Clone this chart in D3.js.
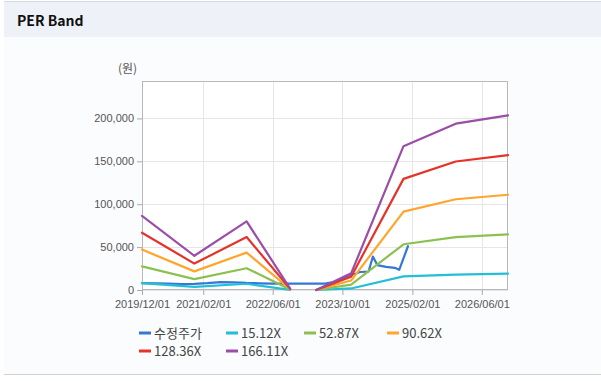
<!DOCTYPE html>
<html><head><meta charset="utf-8">
<script src="https://cdn.jsdelivr.net/npm/d3@7"></script>
<style>
html,body{margin:0;padding:0;background:#fff;}
svg{display:block;}
</style></head>
<body>
<svg id="chart" width="601" height="381"></svg>
<script>
// ---- data ----
const bandDates = ["2019-12-01","2020-12-01","2021-12-01","2022-10-01","2023-01-01","2023-04-01","2023-12-01","2024-12-01","2025-12-01","2026-12-01"];
const per15 =  [7900, 3600, 7300, 200, null, 0, 1800, 15800, 18000, 19200];
const per52 =  [27500, 12700, 25400, 500, null, 0, 6200, 53300, 61700, 64800];
const per90 =  [47100, 21700, 43600, 900, null, 0, 11000, 91400, 105800, 111000];
const per128 = [66700, 30800, 61700, 1300, null, 0, 15500, 129500, 149800, 157200];
const per166 = [86400, 39900, 79900, 1700, null, 0, 19400, 167600, 193900, 203500];

const priceDates = ["2019-12-01","2020-03-01","2020-06-01","2020-09-01","2020-12-01","2021-03-01","2021-06-01","2021-09-01","2021-12-01","2022-03-01","2022-06-01","2023-06-01","2023-09-01","2023-11-01","2024-01-01","2024-02-01","2024-04-01","2024-05-01","2024-06-01","2024-08-01","2024-10-01","2024-11-01","2025-01-01"];
const price = [8000, 7800, 7500, 7000, 7200, 8000, 9200, 9000, 8200, 7800, 7500, 7500, 10000, 16000, 19000, 21000, 21500, 39000, 29000, 27000, 25800, 23500, 51000];

const xTickLabels = ["2019/12/01","2021/02/01","2022/06/01","2023/10/01","2025/02/01","2026/06/01"];
const yTicks = [0, 50000, 100000, 150000, 200000];
const seriesNames = ["수정주가","15.12X","52.87X","90.62X","128.36X","166.11X"];
const seriesColors = ["#3577d4","#22bfd6","#8cc152","#ffa52c","#e6332a","#9b4da8"];

(function(){
// ---- layout ----
const svg = d3.select("#chart");
const W = 601, H = 381;
const pL = 142, pR = 508, pT = 81, pB = 290;
const parse = d3.timeParse("%Y-%m-%d");
const parse2 = d3.timeParse("%Y/%m/%d");

svg.append("rect").attr("x",0).attr("y",0).attr("width",W).attr("height",H).attr("fill","#ffffff");
// panel
svg.append("rect").attr("x",4).attr("y",37).attr("width",W-4).attr("height",337).attr("fill","#fbfcfd");
svg.append("rect").attr("x",4).attr("y",2).attr("width",W-4).attr("height",35).attr("fill","#eef2f8");
svg.append("line").attr("x1",4).attr("x2",W).attr("y1",1.5).attr("y2",1.5).attr("stroke","#d6d9de").attr("stroke-width",1);
svg.append("line").attr("x1",4).attr("x2",W).attr("y1",374.5).attr("y2",374.5).attr("stroke","#cfd2d6").attr("stroke-width",1);
svg.append("text").attr("x",17).attr("y",25.5).attr("font-family","'Noto Sans CJK KR','Noto Sans',sans-serif")
  .attr("font-size",14).attr("font-weight","bold").attr("fill","#111").text("PER Band");

const x = d3.scaleTime().domain([parse("2019-12-01"), parse("2026-12-01")]).range([pL, pR]);
const y = d3.scaleLinear().domain([0, 243600]).range([pB, pT]);

// plot background
svg.append("rect").attr("x",pL).attr("y",pT).attr("width",pR-pL).attr("height",pB-pT).attr("fill","#ffffff");

const xTicks = xTickLabels.map(s => parse2(s));
// grid
svg.append("g").selectAll("line").data(xTicks).join("line")
  .attr("x1",d=>Math.round(x(d))+0.5).attr("x2",d=>Math.round(x(d))+0.5)
  .attr("y1",pT).attr("y2",pB).attr("stroke","#e6e6e6");
svg.append("g").selectAll("line").data(yTicks).join("line")
  .attr("x1",pL).attr("x2",pR)
  .attr("y1",d=>Math.round(y(d))+0.5).attr("y2",d=>Math.round(y(d))+0.5).attr("stroke","#e6e6e6");

// axes
const fmt = d3.format(",");
const yAxis = svg.append("g").attr("transform",`translate(${pL},0)`)
  .call(d3.axisLeft(y).tickValues(yTicks).tickFormat(d=>fmt(d)).tickSize(5).tickSizeOuter(0));
yAxis.select(".domain").remove();
yAxis.selectAll(".tick line").attr("stroke","#aaa");
yAxis.selectAll("text").attr("font-family","'Liberation Sans',Arial,sans-serif").attr("font-size",11).attr("fill","#555").attr("x",-8);

const xAxis = svg.append("g").attr("transform",`translate(0,${pB})`)
  .call(d3.axisBottom(x).tickValues(xTicks).tickFormat(d=>d3.timeFormat("%Y/%m/%d")(d)).tickSize(5).tickSizeOuter(0));
xAxis.select(".domain").remove();
xAxis.selectAll(".tick line").attr("stroke","#aaa");
xAxis.selectAll("text").attr("font-family","'Liberation Sans',Arial,sans-serif").attr("font-size",11).attr("fill","#555").attr("dy","0.95em");

// frame
svg.append("rect").attr("x",pL+0.5).attr("y",pT+0.5).attr("width",pR-pL-1).attr("height",pB-pT-1)
  .attr("fill","none").attr("stroke","#b8b8b8");

svg.append("text").attr("x",118).attr("y",73).attr("font-family","'Noto Sans CJK KR',sans-serif")
  .attr("font-size",12).attr("fill","#555").text("(원)");

// lines
const line = d3.line().defined(d => d.v !== null).x(d => x(d.t)).y(d => y(d.v));
const bandSeries = [per15, per52, per90, per128, per166];
const allSeries = [priceDates.map((s,i)=>({t:parse(s), v:price[i]}))]
  .concat(bandSeries.map(arr => bandDates.map((s,i)=>({t:parse(s), v:arr[i]}))));

svg.append("g").selectAll("path").data(allSeries).join("path")
  .attr("d", line).attr("fill","none")
  .attr("stroke",(d,i)=>seriesColors[i]).attr("stroke-width",2.2)
  .attr("stroke-linejoin","round").attr("stroke-linecap","round");

// legend
const legPos = [[139,333],[226,333],[304,333],[387,333],[139,351],[226,351]];
const lg = svg.append("g");
seriesNames.forEach((n,i)=>{
  const [lx,ly] = legPos[i];
  lg.append("line").attr("x1",lx).attr("x2",lx+12).attr("y1",ly).attr("y2",ly)
    .attr("stroke",seriesColors[i]).attr("stroke-width",3);
  lg.append("text").attr("x",lx+15).attr("y",ly).attr("dy","0.36em")
    .attr("font-family","'Noto Sans CJK KR','Liberation Sans',sans-serif").attr("font-size",13)
    .attr("fill","#444").text(n);
});
})();
</script>
</body></html>
